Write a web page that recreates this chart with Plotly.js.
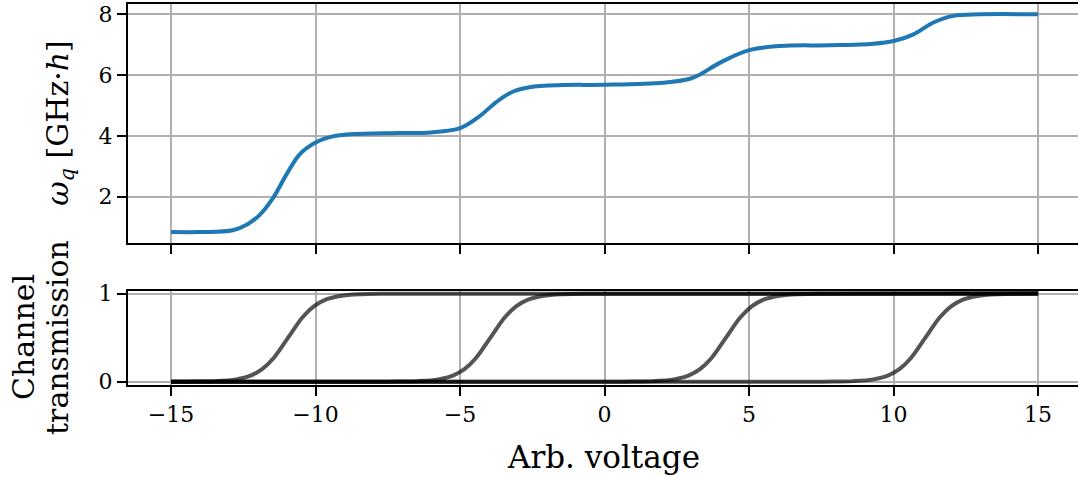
<!DOCTYPE html>
<html>
<head>
<meta charset="utf-8">
<script src="https://cdn.plot.ly/plotly-3.0.1.min.js"></script>
<style>html,body{margin:0;padding:0;background:#fff;}#chart{width:1078px;height:477px;}</style>
</head>
<body>
<div id="chart"></div>
<script>
// ---- data ----
const voltage = [-15, -14, -12.86, -12.4, -11.94, -11.48, -11.01, -10.55, -10.0, -9.4, -8.8, -7.1, -6.0, -5.0, -4.33, -3.76, -3.18, -2.6, -1.45, 0, 2.04, 2.96, 3.3, 4.0, 5.0, 6.1, 7.8, 9.31, 10.0, 10.69, 11.38, 12.07, 13.0, 15];
const omegaQ  = [0.83, 0.83, 0.89, 1.06, 1.39, 1.94, 2.72, 3.39, 3.78, 3.98, 4.05, 4.09, 4.11, 4.25, 4.64, 5.1, 5.45, 5.6, 5.67, 5.68, 5.75, 5.88, 6.02, 6.41, 6.82, 6.96, 6.98, 7.03, 7.12, 7.34, 7.73, 7.95, 8.0, 8.0];

const transY = [0, 0.001, 0.007, 0.027, 0.069, 0.142, 0.269, 0.5, 0.731, 0.858, 0.931, 0.973, 0.993, 0.999, 1];
const ch1X = [-15, -14.45, -13.45, -12.75, -12.25, -11.85, -11.45, -10.95, -10.45, -10.05, -9.65, -9.15, -8.45, -7.45, 15];
const ch2X = [-15, -7.45, -6.45, -5.75, -5.25, -4.85, -4.45, -3.95, -3.45, -3.05, -2.65, -2.15, -1.45, -0.45, 15];
const ch3X = [-15, 0.7, 1.7, 2.4, 2.9, 3.3, 3.7, 4.2, 4.7, 5.1, 5.5, 6.0, 6.7, 7.7, 15];
const ch4X = [-15, 7.6, 8.6, 9.3, 9.8, 10.2, 10.6, 11.1, 11.6, 12.0, 12.4, 12.9, 13.6, 14.6, 15];
const channelXs = [ch1X, ch2X, ch3X, ch4X];

const xTicks = [-15, -10, -5, 0, 5, 10, 15];
const yTicksTop = [2, 4, 6, 8];
const yTicksBottom = [0, 1];

const FONT = 'DejaVu Serif';
const traces = [{
  x: voltage, y: omegaQ, type: 'scatter', mode: 'lines',
  line: {color: '#1f77b4', width: 4, shape: 'spline', smoothing: 1},
  xaxis: 'x', yaxis: 'y', hoverinfo: 'skip'
}];
channelXs.forEach(cx => traces.push({
  x: cx, y: transY, type: 'scatter', mode: 'lines',
  line: {color: 'rgba(0,0,0,0.67)', width: 4, shape: 'spline'},
  xaxis: 'x2', yaxis: 'y2', hoverinfo: 'skip'
}));

const axCommon = {
  showline: true, linecolor: '#000', linewidth: 2,
  ticks: 'outside', ticklen: 9, tickwidth: 2, tickcolor: '#000',
  showgrid: true, gridcolor: '#b0b0b0', gridwidth: 2,
  zeroline: false, tickfont: {family: FONT, size: 22, color: '#000'}
};
const xr = [-16.49, 16.38];
const layout = {
  width: 1078, height: 477,
  margin: {l: 128, r: 0, t: 4, b: 92},
  paper_bgcolor: '#fff', plot_bgcolor: '#fff',
  showlegend: false,
  font: {family: FONT, color: '#000'},
  xaxis: Object.assign({}, axCommon, {domain: [0, 1], range: xr, anchor: 'y', tickvals: xTicks, showticklabels: false, mirror: true}),
  yaxis: Object.assign({}, axCommon, {domain: [0.3735, 1], range: [0.48, 8.34], anchor: 'x', tickvals: yTicksTop}),
  xaxis2: Object.assign({}, axCommon, {domain: [0, 1], range: xr, anchor: 'y2', tickvals: xTicks, mirror: true}),
  yaxis2: Object.assign({}, axCommon, {domain: [0, 0.2475], range: [-0.037, 1.033], anchor: 'x2', tickvals: yTicksBottom}),
  annotations: [
    {xref: 'paper', yref: 'paper', x: -0.0716, y: 0.688, xanchor: 'center', yanchor: 'middle', textangle: -90, showarrow: false,
     text: '<i>ω</i><sub><i>q</i></sub> [GHz·<i>h</i>]', font: {family: FONT, size: 30, color: '#000'}},
    {xref: 'paper', yref: 'paper', x: -0.1095, y: 0.126, xanchor: 'center', yanchor: 'middle', textangle: -90, showarrow: false,
     text: 'Channel', font: {family: FONT, size: 30, color: '#000'}},
    {xref: 'paper', yref: 'paper', x: -0.0737, y: 0.126, xanchor: 'center', yanchor: 'middle', textangle: -90, showarrow: false,
     text: 'transmission', font: {family: FONT, size: 30, color: '#000'}},
    {xref: 'paper', yref: 'paper', x: 0.501, y: -0.19, xanchor: 'center', yanchor: 'middle', showarrow: false,
     text: 'Arb. voltage', font: {family: FONT, size: 31, color: '#000'}}
  ]
};
Plotly.newPlot('chart', traces, layout, {displayModeBar: false, staticPlot: true});
</script>
</body>
</html>
